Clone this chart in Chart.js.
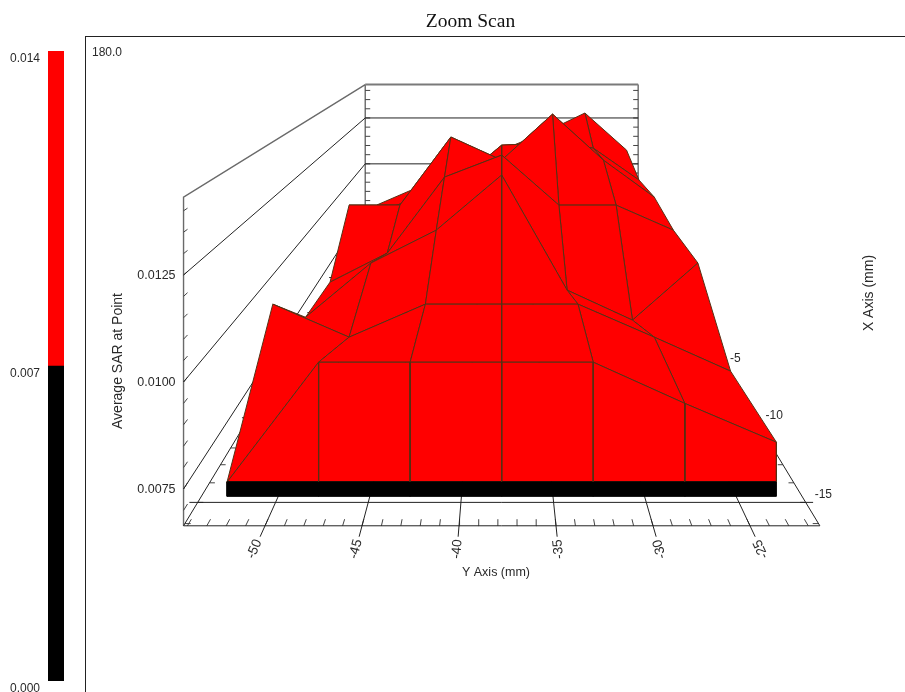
<!DOCTYPE html>
<html>
<head>
<meta charset="utf-8">
<title>Zoom Scan</title>
<script src="https://cdn.jsdelivr.net/npm/chart.js@4/dist/chart.umd.js"></script>
<style>
    html, body { margin: 0; padding: 0; background: #fff; overflow: hidden; }
    #wrap { position: relative; width: 905px; height: 692px; }
    #frame { position: absolute; left: 85px; top: 36px; width: 820px; height: 656px;
             border-left: 1px solid #222; border-top: 1px solid #222; box-sizing: border-box; }
    #mainBox { position: absolute; left: 0; top: 0; width: 905px; height: 692px; }
    #barBox { position: absolute; left: 0; top: 0; width: 85px; height: 692px; }
</style>
</head>
<body>
<div id="wrap">
    <div id="frame"></div>
    <div id="mainBox"><canvas id="mainChart" width="905" height="692"></canvas></div>
    <div id="barBox"><canvas id="colorBar" width="85" height="692"></canvas></div>
</div>
<script>
// ===== Data =====
const xPositions = [-14.7, -9.7, -4.7, 0.3, 5.3, 10.3, 15.3];
const yPositions = [-52.8, -47.8, -42.8, -37.8, -32.8, -27.8, -22.8];

const sarRow1 = [0.00699, 0.00996, 0.00996, 0.00996, 0.00996, 0.00894, 0.00798];
const sarRow2 = [0.00989, 0.00891, 0.00989, 0.00989, 0.00989, 0.00891, 0.00790];
const sarRow3 = [0.00793, 0.00981, 0.01095, 0.01286, 0.00887, 0.00783, 0.00981];
const sarRow4 = [0.00775, 0.00890, 0.01191, 0.01278, 0.01080, 0.01080, 0.00981];
const sarRow5 = [0.00979, 0.00979, 0.01282, 0.01179, 0.01384, 0.01179, 0.01014];
const sarRow6 = [0.00813, 0.00902, 0.00986, 0.01174, 0.01184, 0.01159, 0.01001];
const sarRow7 = [0.00776, 0.00874, 0.00857, 0.01075, 0.01168, 0.01277, 0.01075];
const sarRows = [sarRow1, sarRow2, sarRow3, sarRow4, sarRow5, sarRow6, sarRow7];

const yTicks = [-50, -45, -40, -35, -30, -25];
const xTicks = [-15, -10, -5];
const xGridTicks = [-15, -10, -5, 0, 5, 10, 15];
const sarTicks = [0.0075, 0.0100, 0.0125];
const barValues = [0.007, 0.007];
const barTicks = ["0.000", "0.007", "0.014"];

// ===== Box and projection =====
const SAR_LOW = 0.00664, SAR_HIGH = 0.01432, SAR_SPLIT = 0.007;
const Y_MIN = -54.2, Y_MAX = -21.4, X_MIN = -16.1, X_MAX = 15.3;
const EDGE = "#563014";

function project(yMm, xMm, sar) {
    const s = 1 / (1 + 0.0424 * (xMm - X_MIN));
    return {
        x: 501.7 + s * (yMm + 37.8) * 19.4,
        y: s * (489 - (sar - 0.0075) * 42800)
    };
}

function polyline(points) {
    return points.map(p => project(p[0], p[1], p[2]));
}

// several pieces in one dataset, split by empty points
function pieces(list) {
    const out = [];
    list.forEach(seg => {
        polyline(seg).forEach(p => out.push(p));
        out.push({ x: null, y: null });
    });
    return out;
}

function lineSet(data, color, width) {
    return { data, showLine: true, fill: false, borderColor: color, borderWidth: width, pointRadius: 0, tension: 0 };
}

function faceSet(points, fillColor, edgeColor) {
    const data = polyline(points);
    data.push(data[0]);
    return { data, showLine: true, fill: "shape", backgroundColor: fillColor, borderColor: edgeColor, borderWidth: 1, pointRadius: 0, tension: 0 };
}

// ===== Walls and floor =====
function buildBox() {
    const grid = [], grey = [], ticks = [];

    sarTicks.forEach(z => {
        grid.push([[Y_MIN, X_MIN, z], [Y_MIN, X_MAX, z], [Y_MAX, X_MAX, z]]);
    });
    grey.push([[Y_MIN, X_MIN, SAR_LOW], [Y_MIN, X_MIN, SAR_HIGH], [Y_MIN, X_MAX, SAR_HIGH]]);
    grey.push([[Y_MAX, X_MAX, SAR_HIGH], [Y_MAX, X_MAX, SAR_LOW]]);
    grey.push([[Y_MIN, X_MAX, SAR_LOW], [Y_MIN, X_MAX, SAR_HIGH]]);

    // floor
    grid.push([[Y_MIN, X_MAX, SAR_LOW], [Y_MIN, X_MIN, SAR_LOW], [Y_MAX, X_MIN, SAR_LOW], [Y_MAX, X_MAX, SAR_LOW]]);
    xGridTicks.forEach(x => {
        grid.push([[Y_MIN - 0.45, x, SAR_LOW], [Y_MAX + 0.4, x, SAR_LOW]]);
    });
    yTicks.forEach(y => {
        grid.push([[y, X_MIN - 0.48, SAR_LOW], [y, X_MAX, SAR_LOW]]);
    });

    // minor ticks
    for (let y = -54; y <= -22; y++) ticks.push([[y, X_MIN, SAR_LOW], [y, X_MIN + 0.3, SAR_LOW]]);
    for (let x = -16; x <= 15; x++) {
        ticks.push([[Y_MIN, x, SAR_LOW], [Y_MIN + 0.3, x, SAR_LOW]]);
        ticks.push([[Y_MAX, x, SAR_LOW], [Y_MAX - 0.3, x, SAR_LOW]]);
    }
    for (let i = 1; i <= 15; i++) {
        const z = 0.0065 + i * 0.0005;
        ticks.push([[Y_MIN, X_MIN, z], [Y_MIN, X_MIN + 0.3, z]]);
        ticks.push([[Y_MIN, X_MAX, z], [Y_MIN + 0.6, X_MAX, z]]);
        ticks.push([[Y_MAX, X_MAX, z], [Y_MAX - 0.6, X_MAX, z]]);
    }

    const topBack = [[[Y_MIN, X_MAX, SAR_HIGH], [Y_MAX, X_MAX, SAR_HIGH]]];

    return [
        lineSet(pieces(topBack), "#7a7a7a", 2),
        lineSet(pieces(grid), "#222", 1),
        lineSet(pieces(ticks), "#444", 1),
        lineSet(pieces(grey), "#6a6a6a", 1.4)
    ];
}

// ===== Surface, drawn back to front =====
function buildSurface() {
    const faces = [];
    const order = [0, 5, 1, 4, 2, 3];

    for (let r = xPositions.length - 2; r >= 0; r--) {
        order.forEach(c => {
            faces.push(faceSet([
                [yPositions[c], xPositions[r], sarRows[r][c]],
                [yPositions[c + 1], xPositions[r], sarRows[r][c + 1]],
                [yPositions[c + 1], xPositions[r + 1], sarRows[r + 1][c + 1]],
                [yPositions[c], xPositions[r + 1], sarRows[r + 1][c]]
            ], "#ff0000", EDGE));
        });
    }

    // front side of the surface, red above the colour split and black below
    for (let c = 0; c < yPositions.length - 1; c++) {
        faces.push(faceSet([
            [yPositions[c], xPositions[0], SAR_SPLIT],
            [yPositions[c + 1], xPositions[0], SAR_SPLIT],
            [yPositions[c + 1], xPositions[0], sarRow1[c + 1]],
            [yPositions[c], xPositions[0], sarRow1[c]]
        ], "#ff0000", EDGE));
        faces.push(faceSet([
            [yPositions[c], xPositions[0], SAR_LOW],
            [yPositions[c + 1], xPositions[0], SAR_LOW],
            [yPositions[c + 1], xPositions[0], SAR_SPLIT],
            [yPositions[c], xPositions[0], SAR_SPLIT]
        ], "#000000", "#000000"));
    }

    // redo the front verticals so a neighbouring fill can't thin them
    const uprights = yPositions.map((y, c) => [[y, xPositions[0], SAR_SPLIT], [y, xPositions[0], sarRow1[c]]]);
    faces.push(lineSet(pieces(uprights), EDGE, 1.2));
    return faces;
}

// ===== Axis text =====
const axisText = {
    id: "axisText",
    afterDatasetsDraw(chart) {
        const { ctx, scales } = chart;
        const put = (text, x, y, angle, align, size) => {
            ctx.save();
            ctx.translate(x, y);
            ctx.rotate(angle * Math.PI / 180);
            ctx.font = `${size}px "Liberation Sans", Arial, sans-serif`;
            ctx.fillStyle = "#2a2a2a";
            ctx.textAlign = align;
            ctx.textBaseline = "middle";
            ctx.fillText(text, 0, 0);
            ctx.restore();
        };
        const at = (p) => ({ x: scales.x.getPixelForValue(p.x), y: scales.y.getPixelForValue(p.y) });

        put("180.0", 92, 53, 0, "left", 12);

        sarTicks.forEach(z => {
            const p = at(project(Y_MIN, X_MIN, z));
            put(z.toFixed(4), p.x - 8, p.y + 1, 0, "right", 12.5);
        });

        yTicks.forEach(y => {
            const p = at(project(y, -17.1, SAR_LOW));
            const tilt = Math.atan2(p.x - 501.7, p.y) * 180 / Math.PI;
            put(String(y), p.x, p.y, -90 - tilt, "center", 13.5);
        });

        const xNudge = [[9, -8], [11, -2], [12, 1]];
        xTicks.forEach((x, i) => {
            const p = at(project(Y_MAX, x, SAR_LOW));
            put(String(x), p.x + xNudge[i][0], p.y + xNudge[i][1], 0, "left", 12);
        });

        put("Average SAR at Point", 118, 361, -90, "center", 14);
        put("X Axis (mm)", 869, 293, -90, "center", 14);
        put("Y Axis (mm)", 496, 573, 0, "center", 12.5);
    }
};

// ===== Main chart =====
new Chart(document.getElementById("mainChart"), {
    type: "scatter",
    data: { datasets: buildSurface().reverse().concat(buildBox()) },
    options: {
        responsive: false,
        animation: false,
        layout: { padding: { left: 36 } },
        plugins: {
            legend: { display: false },
            tooltip: { enabled: false },
            title: {
                display: true,
                text: "Zoom Scan",
                color: "#111",
                font: { family: '"Liberation Serif", "Times New Roman", serif', size: 19.5, weight: "normal", lineHeight: 1.2 },
                padding: { top: 10, bottom: 3.6 }
            }
        },
        scales: {
            x: { type: "linear", display: false, min: 36, max: 905 },
            y: { type: "linear", display: false, reverse: true, min: 37, max: 692 }
        }
    },
    plugins: [axisText]
});

// ===== Colour bar =====
new Chart(document.getElementById("colorBar"), {
    type: "bar",
    data: {
        labels: ["SAR"],
        datasets: [
            { data: [barValues[0]], backgroundColor: "#000000", categoryPercentage: 1, barPercentage: 1 },
            { data: [barValues[1]], backgroundColor: "#ff0000", categoryPercentage: 1, barPercentage: 1 }
        ]
    },
    options: {
        responsive: false,
        animation: false,
        layout: { padding: { top: 51, bottom: 11, right: 21 } },
        plugins: { legend: { display: false }, tooltip: { enabled: false } },
        scales: {
            x: { stacked: true, display: false },
            y: {
                stacked: true,
                min: 0,
                max: 0.014,
                afterFit: (s) => { s.width = 48; },
                afterBuildTicks: (s) => { s.ticks = barTicks.map(t => ({ value: Number(t) })); },
                grid: { display: false },
                border: { display: false },
                ticks: {
                    padding: 0,
                    labelOffset: 7.5,
                    color: "#2a2a2a",
                    font: { family: '"Liberation Sans", Arial, sans-serif', size: 12 },
                    callback: (v) => Number(v).toFixed(3)
                }
            }
        }
    }
});
</script>
</body>
</html>
